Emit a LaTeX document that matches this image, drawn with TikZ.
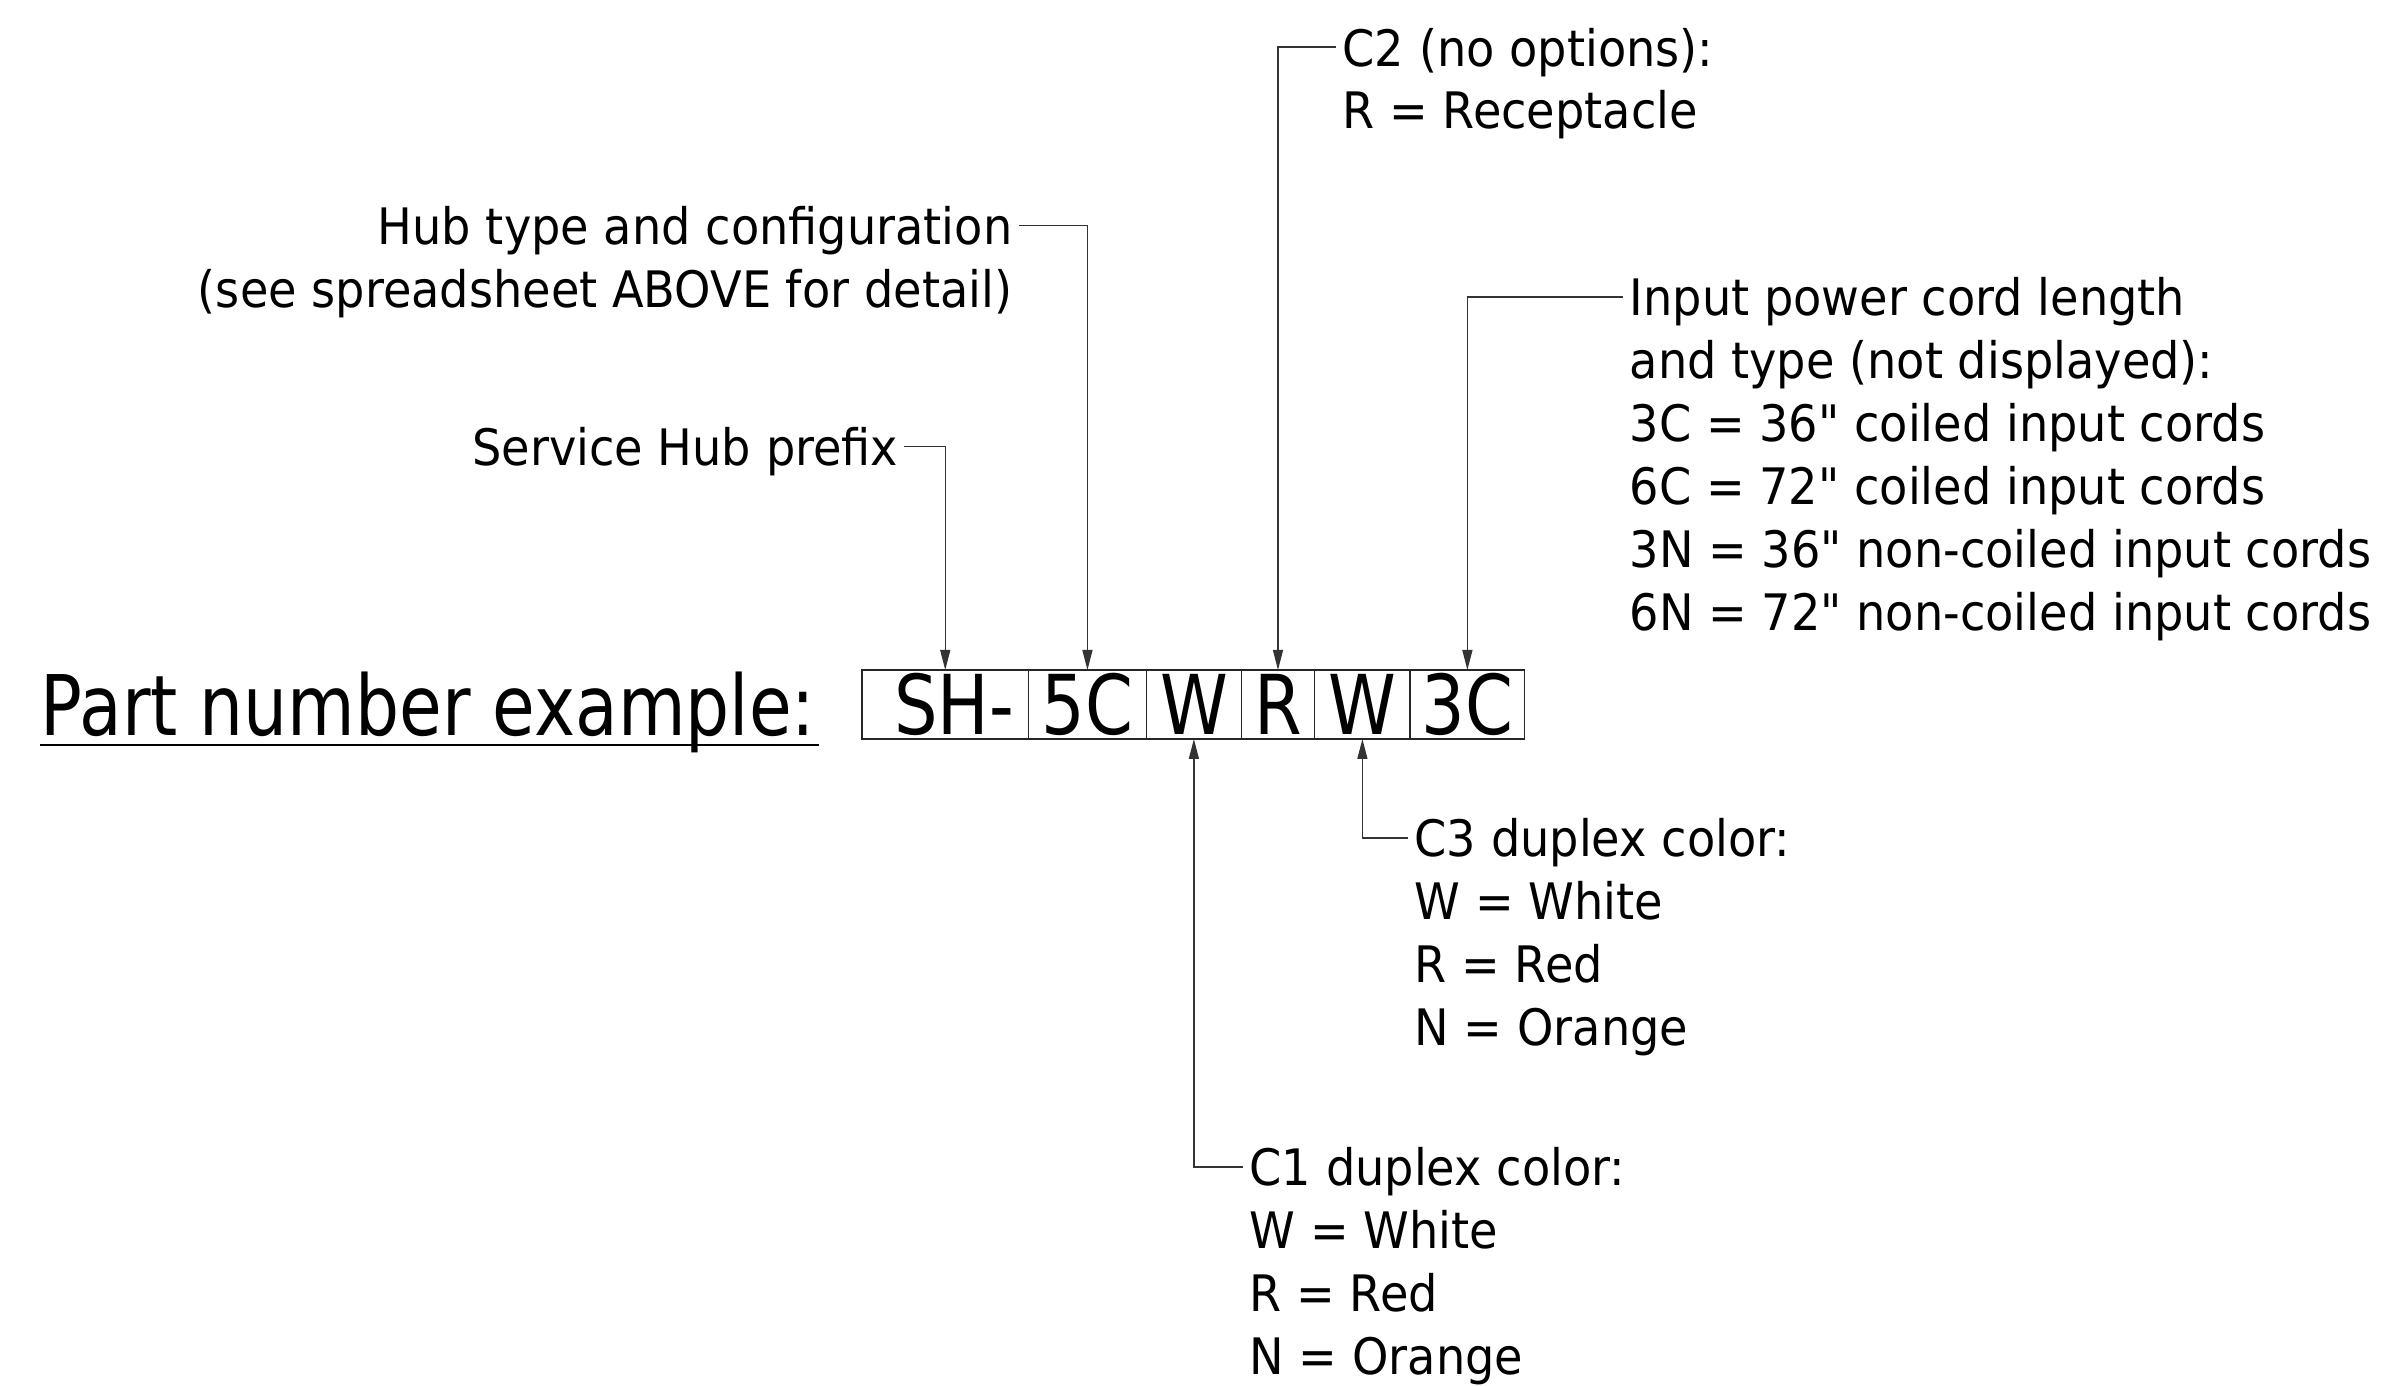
\documentclass[tikz,border=0pt]{standalone}
\usepackage{fontspec}
\newfontfamily\lblfont{DejaVu Sans}[FakeStretch=0.92]
\newfontfamily\bigfont{DejaVu Sans}[FakeStretch=0.83]
\usepackage{tikz}
\usetikzlibrary{positioning}
\usetikzlibrary{arrows.meta}

\begin{document}
\begin{tikzpicture}[>={Triangle[length=2mm,width=1mm]},
    cell/.style={draw=black!85, line width=0.5pt, inner sep=0pt, outer sep=0pt, minimum height=0.69cm,
                 font=\bigfont\fontsize{23.5}{27}\selectfont},
    lbl/.style={inner sep=0pt, font=\lblfont\fontsize{14.3}{17.9}\selectfont},
    lead/.style={draw=black!80, line width=0.4pt, ->}]
    \useasboundingbox (0,0) rectangle (23.89,13.86);

    % Ligne de base : titre et numero
    \node (title) [anchor=base west, inner sep=0pt, font=\bigfont\fontsize{23.8}{28}\selectfont] at (0.40,6.50) {Part number example:};
    \draw [line width=0.5pt] ([yshift=-0.09cm]title.base west) -- ([yshift=-0.09cm,xshift=0.03cm]title.base east);

    \node (cSH) [cell, minimum width=1.665cm, anchor=west] at (8.62,6.815) {\hspace{0.18cm}SH-};
    \node (c5C) [cell, minimum width=1.179cm, right=0pt of cSH] {5C};
    \node (cW1) [cell, minimum width=0.950cm, right=0pt of c5C] {W};
    \node (cR)  [cell, minimum width=0.732cm, right=0pt of cW1] {R};
    \node (cW2) [cell, minimum width=0.956cm, right=0pt of cR] {W};
    \node (c3C) [cell, minimum width=1.144cm, right=0pt of cW2] {3C};

    % Legendes du haut
    \node (c2) [lbl, anchor=north west, align=left] at (13.42,13.588)
               {C2 (no options):\\ R = Receptacle};
    \node (hub) [lbl, anchor=north east, align=right] at (10.13,11.805)
               {Hub type and configuration\\ (see spreadsheet ABOVE for detail)};
    \node (prefix) [lbl, anchor=north east] at (8.99,9.596) {Service Hub prefix};
    \node (cord) [lbl, anchor=north west, align=left] at (16.29,11.089)
               {Input power cord length\\ and type (not displayed):\\
                3C = 36" coiled input cords\\ 6C = 72" coiled input cords\\
                3N = 36" non-coiled input cords\\ 6N = 72" non-coiled input cords};

    % Legendes du bas
    \node (c3) [lbl, anchor=north west, align=left] at (14.14,5.68)
               {C3 duplex color:\\ W = White\\ R = Red\\ N = Orange};
    \node (c1) [lbl, anchor=north west, align=left] at (12.49,2.39)
               {C1 duplex color:\\ W = White\\ R = Red\\ N = Orange};

    % Fleches
    \coordinate (c2in) at ([xshift=-0.06cm,yshift=-0.2cm]c2.north west);
    \coordinate (hubin) at ([xshift=0.06cm,yshift=-0.2cm]hub.north east);
    \coordinate (prefixin) at ([xshift=0.05cm,yshift=-0.2cm]prefix.north east);
    \coordinate (cordin) at ([xshift=-0.06cm,yshift=-0.2cm]cord.north west);
    \coordinate (c3in) at ([xshift=-0.06cm,yshift=-0.2cm]c3.north west);
    \coordinate (c1in) at ([xshift=-0.06cm,yshift=-0.2cm]c1.north west);

    \draw [lead] (prefixin) -| (cSH.north);
    \draw [lead] (hubin) -| (c5C.north);
    \draw [lead] (c2in) -| (cR.north);
    \draw [lead] (cordin) -| (c3C.north);
    \draw [lead] (c3in) -| (cW2.south);
    \draw [lead] (c1in) -| (cW1.south);
\end{tikzpicture}
\end{document}
